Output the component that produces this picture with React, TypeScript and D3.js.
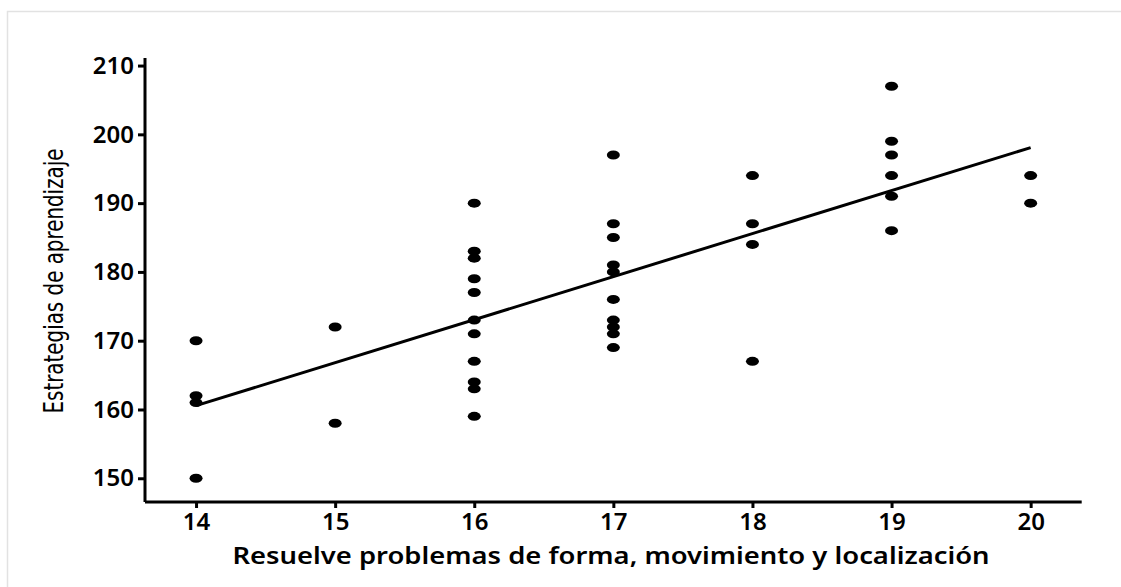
import * as d3 from "d3";
import { useEffect, useRef } from "react";

// puntajes observados (x: resuelve problemas, y: estrategias)
const xScores = [
  14, 14, 14, 14,
  15, 15,
  16, 16, 16, 16, 16, 16, 16, 16, 16, 16, 16,
  17, 17, 17, 17, 17, 17, 17, 17, 17, 17,
  18, 18, 18, 18,
  19, 19, 19, 19, 19, 19,
  20, 20,
];
const yScores = [
  170, 162, 161, 150,
  172, 158,
  190, 183, 182, 179, 177, 173, 171, 167, 164, 163, 159,
  197, 187, 185, 181, 180, 176, 173, 172, 171, 169,
  194, 187, 184, 167,
  207, 199, 197, 194, 191, 186,
  194, 190,
];
const xTicks = [14, 15, 16, 17, 18, 19, 20];
const yTicks = [150, 160, 170, 180, 190, 200, 210];
const xTitle = "Resuelve problemas de forma, movimiento y localización";
const yTitle = "Estrategias de aprendizaje";

const W = 1121;
const H = 587;
const tickFont = "'Noto Sans', 'Open Sans', sans-serif";

const App = () => {
  const ref = useRef<SVGSVGElement | null>(null);

  useEffect(() => {
    const svg = d3.select(ref.current);
    svg.selectAll("*").remove();

    // marco gris claro
    svg.append("rect")
      .attr("x", 7.5).attr("y", 11.5)
      .attr("width", W + 20).attr("height", H + 20)
      .attr("fill", "none").attr("stroke", "#e2e2e2").attr("stroke-width", 1.5);

    const x = d3.scaleLinear().domain([13.633, 20.367]).range([145, 1081.7]);
    const y = d3.scaleLinear().domain([146.55, 211.1]).range([502, 58]);

    // ejes
    const xAxis = svg.append("g")
      .attr("transform", `translate(0, ${y.range()[0]})`)
      .call(d3.axisBottom(x).tickValues(xTicks).tickFormat(d3.format("d")).tickSize(6).tickPadding(5));
    xAxis.select(".domain").attr("d", `M${x.range()[0]},0H${x.range()[1]}`).attr("stroke-width", 3);

    const yAxis = svg.append("g")
      .attr("transform", `translate(${x.range()[0]}, 0)`)
      .call(d3.axisLeft(y).tickValues(yTicks).tickFormat(d3.format("d")).tickSize(7).tickPadding(4));
    yAxis.select(".domain").attr("d", `M0,${y.range()[1]}V${y.range()[0]}`).attr("stroke-width", 3);

    [xAxis, yAxis].forEach(g => {
      g.selectAll(".tick line").attr("stroke", "#000").attr("stroke-width", 3);
      g.selectAll(".tick text")
        .attr("fill", "#000")
        .style("font-family", tickFont)
        .style("font-weight", 600)
        .style("font-size", "24px");
    });

    // recta de regresion (minimos cuadrados)
    const pts = xScores.map((v, i) => [v, yScores[i]] as [number, number]);
    const mx = d3.mean(xScores) as number;
    const my = d3.mean(yScores) as number;
    const sxy = d3.sum(pts, p => (p[0] - mx) * (p[1] - my));
    const sxx = d3.sum(xScores, v => (v - mx) ** 2);
    const b = sxy / sxx;
    const a = my - b * mx;
    const [x0, x1] = d3.extent(xScores) as [number, number];
    const line = d3.line<number>().x(d => x(d)).y(d => y(a + b * d));

    svg.append("path")
      .datum([x0, x1])
      .attr("d", line)
      .attr("fill", "none")
      .attr("stroke", "#000")
      .attr("stroke-width", 3);

    // puntos
    svg.selectAll(".dot")
      .data(pts)
      .enter()
      .append("ellipse")
      .attr("cx", d => x(d[0]))
      .attr("cy", d => y(d[1]))
      .attr("rx", 6.5)
      .attr("ry", 4.5)
      .attr("fill", "#000");

    // titulos
    svg.append("text")
      .attr("x", 611).attr("y", 564)
      .attr("text-anchor", "middle")
      .attr("textLength", 757)
      .attr("lengthAdjust", "spacingAndGlyphs")
      .style("font-family", tickFont)
      .style("font-weight", 600)
      .style("font-size", "24px")
      .text(xTitle);

    svg.append("text")
      .attr("transform", "translate(63, 281) rotate(-90)")
      .attr("text-anchor", "middle")
      .attr("textLength", 265)
      .attr("lengthAdjust", "spacingAndGlyphs")
      .style("font-family", "'Liberation Sans Narrow', 'DejaVu Sans Condensed', sans-serif")
      .style("font-size", "26px")
      .text(yTitle);
  }, []);

  return (
    <svg ref={ref} width={W} height={H}
      style={{ position: "absolute", left: 0, top: 0, background: "#fff" }} />
  );
};

export default App;
